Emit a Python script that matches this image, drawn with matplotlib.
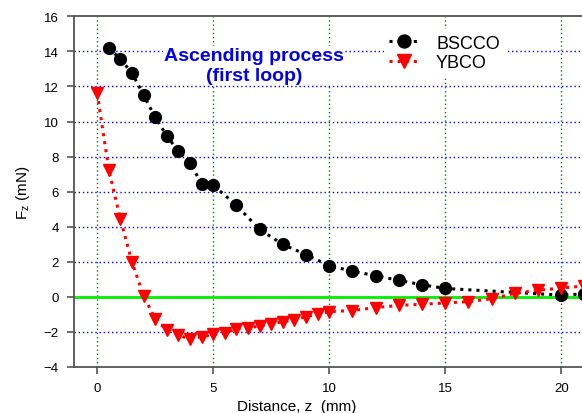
import matplotlib
matplotlib.use("Agg")
import matplotlib.pyplot as plt

plt.rcParams['font.family'] = ['Liberation Sans', 'DejaVu Sans']

bscco_x = [0.5, 1.0, 1.5, 2.0, 2.5, 3.0, 3.5, 4.0, 4.5, 5.0, 6, 7, 8, 9, 10, 11, 12, 13, 14, 15, 20, 21]
bscco_y = [14.2, 13.56, 12.77, 11.5, 10.24, 9.18, 8.3, 7.63, 6.46, 6.37, 5.22, 3.85, 2.99, 2.41, 1.78, 1.46,
           1.21, 0.94, 0.69, 0.48, 0.1, 0.17]

ybco_x = [0, 0.5, 1.0, 1.5, 2.0, 2.5, 3.0, 3.5, 4.0, 4.5, 5.0, 5.5, 6.0, 6.5, 7.0, 7.5, 8.0, 8.5, 9.0, 9.5,
          10, 11, 12, 13, 14, 15, 16, 17, 18, 19, 20, 21]
ybco_y = [11.62, 7.25, 4.43, 1.98, 0.06, -1.26, -1.9, -2.18, -2.41, -2.28, -2.13, -2.05, -1.84, -1.76, -1.67,
          -1.55, -1.41, -1.32, -1.13, -0.98, -0.84, -0.78, -0.61, -0.49, -0.42, -0.35, -0.27, -0.11, 0.2,
          0.38, 0.5, 0.62]

xticks = [0, 5, 10, 15, 20]
yticks = [-4, -2, 0, 2, 4, 6, 8, 10, 12, 14, 16]
hgrid = [-2, 2, 4, 6, 8, 10, 12, 14]

W, H = 582, 414
fig = plt.figure(figsize=(W / 100, H / 100), dpi=100)
ax = fig.add_axes([74 / W, 46 / H, 510.4 / W, 350.7 / H])
ax.set_xlim(-1, 21)
ax.set_ylim(-4, 16)

for y in hgrid:
    ax.axhline(y, color='#0000ee', lw=1.0, ls=(0, (1, 2)), zorder=1)
for x in xticks:
    ax.axvline(x, color='#008000', lw=1.0, ls=(0, (1, 2)), zorder=1)
ax.axhline(0, color='#00ee00', lw=2.0, zorder=2)

ax.plot(bscco_x, bscco_y, ls=':', lw=2.2, color='black', marker='o', ms=8.5, label='BSCCO', zorder=3)
ax.plot(ybco_x, ybco_y, ls=':', lw=2.2, color='#ff0000', marker='v', ms=9, label='YBCO', zorder=4)

ax.set_xticks(xticks)
ax.set_yticks(yticks)
ax.tick_params(direction='out', length=5, width=1.2, color='#555555', labelsize=9.5, pad=6)
for s in ['left', 'bottom', 'top', 'right']:
    ax.spines[s].set_color('#555555')
    ax.spines[s].set_linewidth(1.3)

ax.set_xlabel('Distance, z  (mm)', fontsize=11)
ax.xaxis.set_label_coords(0.437, -0.09)
ax.set_ylabel('F$_\\mathregular{z}$ (mN)', fontsize=11, labelpad=8)

ax.text(6.75, 13.2, 'Ascending process\n(first loop)', color='#0000ee', fontsize=14, fontweight='bold',
        ha='center', va='center', linespacing=1.2, zorder=5,
        bbox=dict(facecolor='white', edgecolor='none', pad=0.5))

leg = ax.legend(loc='upper left', bbox_to_anchor=(0.589, 0.989), frameon=True, fontsize=13,
                handlelength=1.7, handletextpad=0.9, borderpad=0.3, labelspacing=0.15, markerscale=1.1)
leg.get_frame().set_edgecolor('none')
leg.get_frame().set_facecolor('white')
leg.get_frame().set_alpha(1.0)
leg.set_zorder(6)

fig.savefig('out.png', dpi=100)
